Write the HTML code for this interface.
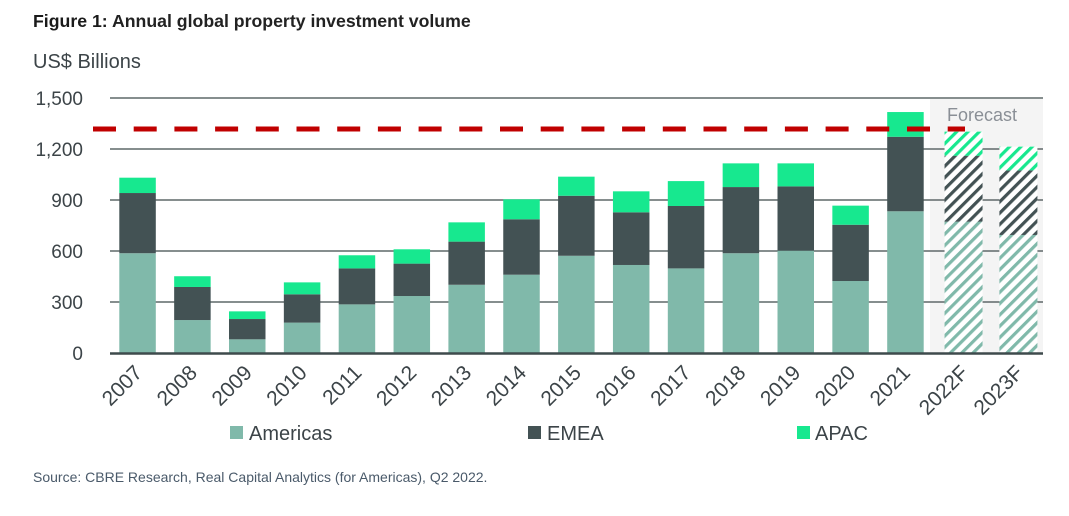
<!DOCTYPE html>
<html><head><meta charset="utf-8"><style>
html,body{margin:0;padding:0;background:#fff;}
svg{display:block;font-family:"Liberation Sans",sans-serif;}
</style></head><body>
<svg width="1069" height="516" viewBox="0 0 1069 516" xmlns="http://www.w3.org/2000/svg">
<defs>
<pattern id="hA" width="8" height="8" patternUnits="userSpaceOnUse" patternTransform="rotate(45)"><rect width="8" height="8" fill="#fff"/><rect width="3.2" height="8" fill="#80b9aa"/></pattern>
<pattern id="hE" width="8" height="8" patternUnits="userSpaceOnUse" patternTransform="rotate(45)"><rect width="8" height="8" fill="#fff"/><rect width="3.2" height="8" fill="#435254"/></pattern>
<pattern id="hP" width="8" height="8" patternUnits="userSpaceOnUse" patternTransform="rotate(45)"><rect width="8" height="8" fill="#fff"/><rect width="3.2" height="8" fill="#17e88f"/></pattern>
</defs>
<text x="33" y="27" font-size="17.7" font-weight="bold" fill="#1a1a1a">Figure 1: <tspan fill="#222">Annual global property investment volume</tspan></text>
<text x="33" y="68" font-size="20" fill="#3c4448">US$ Billions</text>
<rect x="930" y="99" width="113" height="254" fill="#f4f4f4"/>
<g stroke="#5f6869" stroke-width="1.5">
<line x1="110" y1="98" x2="1043" y2="98"/>
<line x1="110" y1="149" x2="1043" y2="149"/>
<line x1="110" y1="200" x2="1043" y2="200"/>
<line x1="110" y1="251" x2="1043" y2="251"/>
<line x1="110" y1="302" x2="1043" y2="302"/>
</g>
<g font-size="19" fill="#3c4448" text-anchor="end">
<text x="83" y="105">1,500</text><text x="83" y="156">1,200</text><text x="83" y="207">900</text><text x="83" y="258">600</text><text x="83" y="309">300</text><text x="83" y="360">0</text>
</g>
<g id="bars"></g>
<line x1="110" y1="353.5" x2="1043" y2="353.5" stroke="#3e4a4c" stroke-width="2.5"/>
<line x1="93" y1="129" x2="965" y2="129" stroke="#c00000" stroke-width="5" stroke-dasharray="23 17.7"/>
<text x="947" y="121" font-size="18" fill="#8a8f96">Forecast</text>
<g id="labels" font-size="21" fill="#3c4448" text-anchor="end"></g>
<rect x="230" y="426" width="13" height="13" fill="#80b9aa"/><text x="249" y="440" font-size="20" fill="#3c4448">Americas</text>
<rect x="528" y="426" width="13" height="13" fill="#435254"/><text x="547" y="440" font-size="20" fill="#3c4448">EMEA</text>
<rect x="797" y="426" width="13" height="13" fill="#17e88f"/><text x="815" y="440" font-size="20" fill="#3c4448">APAC</text>
<text x="33" y="482" font-size="14" fill="#4a5a6a">Source: CBRE Research, Real Capital Analytics (for Americas), Q2 2022.</text>
</svg>
<script>
var d=[["2007",587,940,1030],["2008",195,389,452],["2009",82,201,246],["2010",180,346,416],["2011",287,498,575],["2012",336,526,610],["2013",402,655,768],["2014",461,786,903],["2015",572,924,1036],["2016",518,827,950],["2017",498,864,1010],["2018",587,975,1114],["2019",602,979,1114],["2020",424,754,866],["2021",833,1270,1415],["2022F",772,1159,1300],["2023F",694,1073,1212]];
var ns="http://www.w3.org/2000/svg",g=document.getElementById("bars"),lg=document.getElementById("labels");
function y(v){return 353.3-v*0.1705;}
function r(x,y0,y1,w,f){var e=document.createElementNS(ns,"rect");e.setAttribute("x",x);e.setAttribute("y",y1);e.setAttribute("width",w);e.setAttribute("height",y0-y1);e.setAttribute("fill",f);g.appendChild(e);}
d.forEach(function(b,i){var x=119.3+i*54.85,w=36.5,f=i>=15;if(f){x+=2.5;w=38;}
r(x,y(0),y(b[1]),w,f?"url(#hA)":"#80b9aa");r(x,y(b[1]),y(b[2]),w,f?"url(#hE)":"#435254");r(x,y(b[2]),y(b[3]),w,f?"url(#hP)":"#17e88f");
var t=document.createElementNS(ns,"text"),cx=x+w/2+6,cy=374;t.setAttribute("x",cx);t.setAttribute("y",cy);t.setAttribute("transform","rotate(-45 "+cx+" "+cy+")");t.textContent=b[0];lg.appendChild(t);});
</script>
</body></html>
